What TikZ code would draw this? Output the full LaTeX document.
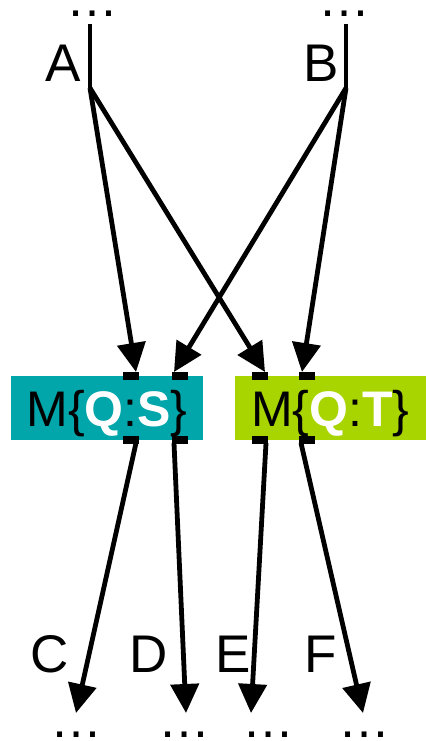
\documentclass[tikz,border=0pt]{standalone}
\usepackage{fontspec}
\setmainfont{Liberation Sans}
\usetikzlibrary{arrows.meta}
\definecolor{teal1}{RGB}{0,166,170}
\definecolor{lime1}{RGB}{168,212,0}
\begin{document}
\begin{tikzpicture}[x=1pt,y=-1pt,
  conn/.style={line width=4.8pt,-{Triangle[length=29pt,width=28pt]}},
  plain/.style={line width=4.8pt},
  port/.style={fill=black,minimum width=16pt,minimum height=8pt,inner sep=0pt,outer sep=0pt},
  lbl/.style={font=\fontsize{53}{60}\selectfont,inner sep=0pt,anchor=base},
  dotsx/.style={font=\fontsize{52}{60}\selectfont,inner sep=0pt,anchor=base},
  boxx/.style={minimum width=192pt,minimum height=64pt,inner sep=0pt,outer sep=0pt,
    text height=36pt,text depth=0pt,font=\fontsize{50}{60}\selectfont}
]
\useasboundingbox (0,0) rectangle (426,741);
% boxes
\node[boxx,fill=teal1] (qs) at (107,408) {M\{\textcolor{white}{\bfseries Q}:\textcolor{white}{\bfseries S}\}};
\node[boxx,fill=lime1,minimum width=191pt] (qt) at (330.5,408) {M\{\textcolor{white}{\bfseries Q}:\textcolor{white}{\bfseries T}\}};
% ports
\node[port] (qsTL) at (131,376) {};
\node[port] (qsTR) at (179.5,376) {};
\node[port] (qtTL) at (260,376) {};
\node[port] (qtTR) at (307,376) {};
\node[port] (qsBL) at (131,440) {};
\node[port] (qsBR) at (179.5,440) {};
\node[port] (qtBL) at (260,440) {};
\node[port] (qtBR) at (307,440) {};
% connector end points
\coordinate (Atop) at (90,24);
\coordinate (Aj) at (90,88);
\coordinate (Btop) at (346,24);
\coordinate (Bj) at (346,88);
\coordinate (qsTLin) at (136,372);
\coordinate (qsTRin) at (174,372);
\coordinate (qtTLin) at (265,372);
\coordinate (qtTRin) at (302,372);
\coordinate (qsBLout) at (136,443);
\coordinate (qsBRout) at (174,443);
\coordinate (qtBLout) at (266,443);
\coordinate (qtBRout) at (301,443);
\coordinate (Cend) at (76,713);
\coordinate (Dend) at (186,713);
\coordinate (Eend) at (251,713);
\coordinate (Fend) at (363,713);
% lines
\draw[plain] (Atop) -- (Aj);
\draw[plain] (Btop) -- (Bj);
\draw[conn] (Aj) -- (qsTLin);
\draw[conn] (Aj) -- (qtTLin);
\draw[conn] (Bj) -- (qsTRin);
\draw[conn] (Bj) -- (qtTRin);
\draw[conn] (qsBLout) -- (Cend);
\draw[conn] (qsBRout) -- (Dend);
\draw[conn] (qtBLout) -- (Eend);
\draw[conn] (qtBRout) -- (Fend);
% labels
\node[lbl] (lA) at (63.5,82) {A};
\node[lbl] (lB) at (321,82) {B};
\node[lbl] (lC) at (49.5,672) {C};
\node[lbl] (lD) at (148.5,672) {D};
\node[lbl] (lE) at (233.5,672) {E};
\node[lbl] (lF) at (320.5,672) {F};
% ellipses
\node[dotsx] (dA) at (92.5,17) {…};
\node[dotsx] (dB) at (344.5,17) {…};
\node[dotsx] (dC) at (76.5,737) {…};
\node[dotsx] (dD) at (184.5,737) {…};
\node[dotsx] (dE) at (268.5,737) {…};
\node[dotsx] (dF) at (364.5,737) {…};
\end{tikzpicture}
\end{document}
